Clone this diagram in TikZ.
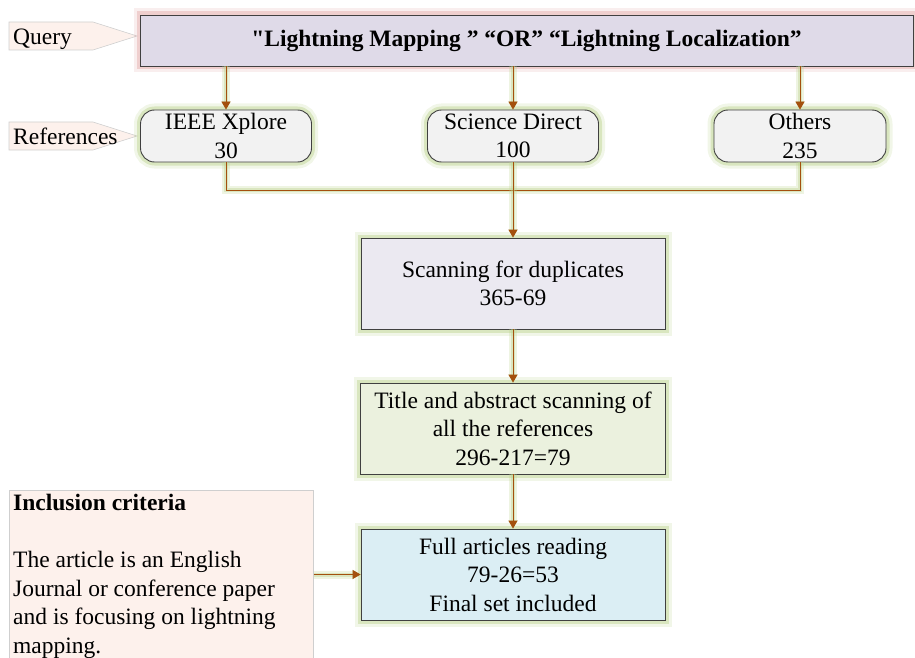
\documentclass[tikz,border=0pt]{standalone}
\usepackage{fontspec}
\setmainfont{Liberation Serif}
\newfontfamily\rawserif{Liberation Serif}
\usetikzlibrary{arrows.meta}
\definecolor{query-lilac}{HTML}{DFDAE8}
\definecolor{query-glow}{HTML}{E3A9A8}
\definecolor{leaf-glow}{HTML}{BBD28C}
\definecolor{source-grey}{HTML}{F2F2F2}
\definecolor{scan-lilac}{HTML}{EBE9F1}
\definecolor{title-green}{HTML}{EBF1DE}
\definecolor{full-blue}{HTML}{DBEEF4}
\definecolor{tag-peach}{HTML}{FDF1EC}
\definecolor{tag-edge}{HTML}{CFCFCF}
\definecolor{wire-brown}{HTML}{A4500E}

\begin{document}
\begin{tikzpicture}[x=1pt, y=-1pt,
    font=\fontsize{23.5}{28.5}\selectfont,
    glow/.style={preaction={draw=#1, line width=13pt, opacity=0.2},
                 preaction={draw=#1, line width=7pt, opacity=0.45}},
    box/.style={draw=black!75, line width=0.9pt, align=center, inner sep=2pt},
    source/.style={box, glow=leaf-glow, rounded corners=14pt, fill=source-grey, minimum width=171, minimum height=52},
    stage/.style={box, glow=leaf-glow, minimum width=304, minimum height=91},
    wire/.style={draw=wire-brown, line width=0.9pt,
                 preaction={draw=leaf-glow, line width=8pt, opacity=0.25},
                 preaction={draw=leaf-glow, line width=4pt, opacity=0.4}},
    flow/.style={wire, -{Triangle[length=8pt, width=9pt]}},
    tag/.style={fill=tag-peach, draw=tag-edge, line width=0.6pt}]
    \clip (0, 0) rectangle (915, 658);

    % side tags
    \filldraw[tag] (9, 22) -- (93, 22) -- (137, 36) -- (93, 50) -- (9, 50) -- cycle;
    \node[anchor=base west, inner sep=0pt] (qtag) at (13, 45) {Query};
    \filldraw[tag] (9, 122) -- (93, 122) -- (137, 136) -- (93, 150) -- (9, 150) -- cycle;
    \node[anchor=base west, inner sep=0pt] (rtag) at (13, 144) {References};

    \node[box, glow=query-glow, fill=query-lilac, minimum width=773, minimum height=51] (query) at (526.5, 40.5)
        {\rawserif\bfseries "Lightning Mapping ” “OR” “Lightning Localization”};

    \node[source] (ieee) at (226, 136) {IEEE Xplore\\30};
    \node[source] (sd) at (513, 136) {Science Direct\\100};
    \node[source, minimum width=172] (oth) at (800, 136) {Others\\235};

    \node[stage, fill=scan-lilac] (scan) at (513, 283.5) {Scanning for duplicates\\365-69};
    \node[stage, fill=title-green, minimum width=305] (title) at (513, 428.5)
        {Title and abstract scanning of\\all the references\\296-217=79};
    \node[stage, fill=full-blue] (full) at (513, 574.5) {Full articles reading\\79-26=53\\Final set included};

    % inclusion criteria panel, runs off the bottom
    \node[tag, anchor=north west, minimum width=304, minimum height=200, inner sep=0pt] (inclbox) at (9, 490) {};
    \node[anchor=north west, align=left, inner sep=0pt] (incl) at (13, 494)
        {\textbf{Inclusion criteria}\\[28.5pt]
         The article is an English\\
         Journal or conference paper\\
         and is focusing on lightning\\
         mapping.};

    \draw[flow] (query.south -| ieee.north) -- (ieee.north);
    \draw[flow] (query.south -| sd.north) -- (sd.north);
    \draw[flow] (query.south -| oth.north) -- (oth.north);

    \coordinate (bus) at (513, 190);
    \draw[wire] (ieee.south) |- (bus);
    \draw[wire] (oth.south) |- (bus);
    \draw[flow] (sd.south) -- (scan.north);
    \draw[flow] (scan.south) -- (title.north);
    \draw[flow] (title.south) -- (full.north);
    \draw[flow] (inclbox.east |- full.west) -- (full.west);
\end{tikzpicture}
\end{document}
